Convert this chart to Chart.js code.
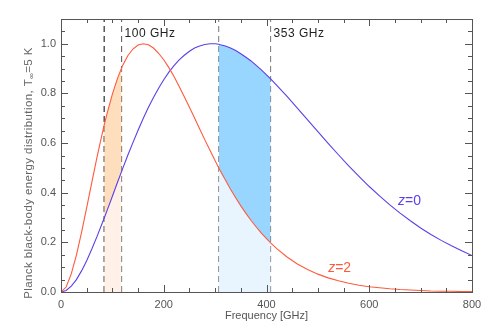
<!DOCTYPE html>
<html>
<head>
<meta charset="utf-8">
<script src="https://cdn.jsdelivr.net/npm/chart.js@4.4.1/dist/chart.umd.min.js"></script>
<style>
  html, body { margin: 0; padding: 0; background: #fff; }
  #wrap { width: 491px; height: 331px; }
</style>
</head>
<body>
<div id="wrap"><canvas id="planck" width="491" height="331"></canvas></div>
<script>
const freqGHz = [0, 10, 20, 30, 40, 50, 60, 70, 80, 84, 90, 100, 110, 118,
  120, 130, 140, 150, 160, 170, 180, 190, 200, 210, 220, 230, 240, 250, 260, 270, 280, 290, 300,
  307, 310, 320, 330, 340, 350, 360, 370, 380, 390, 400, 408,
  420, 440, 460, 480, 500, 520, 540, 560, 580, 600, 620, 640, 660, 680, 700, 720, 740, 760, 780, 800];

const z2Values = [0, 0.020, 0.073, 0.149, 0.240, 0.340, 0.442, 0.542, 0.636, 0.672, 0.722, 0.797, 0.861, 0.903,
  0.913, 0.952, 0.979, 0.995, 1.000, 0.996, 0.983, 0.962, 0.936, 0.904, 0.868, 0.828, 0.787, 0.744, 0.701, 0.657, 0.613, 0.571, 0.529,
  0.501, 0.489, 0.451, 0.414, 0.380, 0.347, 0.317, 0.288, 0.262, 0.237, 0.215, 0.198,
  0.175, 0.141, 0.113, 0.091, 0.072, 0.057, 0.045, 0.035, 0.027, 0.021, 0.017, 0.013, 0.010, 0.008, 0.006, 0.004, 0.003, 0.003, 0.002, 0.002];

const z0Values = [0, 0.006, 0.024, 0.050, 0.085, 0.126, 0.173, 0.223, 0.276, 0.297, 0.330, 0.386, 0.442, 0.486,
  0.497, 0.551, 0.602, 0.652, 0.699, 0.743, 0.784, 0.821, 0.855, 0.886, 0.912, 0.935, 0.954, 0.970, 0.983, 0.991, 0.997, 1.000, 1.000,
  0.998, 0.996, 0.991, 0.983, 0.973, 0.960, 0.946, 0.931, 0.913, 0.895, 0.875, 0.859,
  0.833, 0.788, 0.741, 0.694, 0.646, 0.599, 0.553, 0.508, 0.466, 0.425, 0.387, 0.351, 0.318, 0.287, 0.258, 0.232, 0.208, 0.186, 0.166, 0.147];

const band100 = [84, 118];
const band353 = [307, 408];
const bandNames = ['100 GHz', '353 GHz'];
const curveNames = ['0', '2'];

const xTickLabels = ['0', '200', '400', '600', '800'];
const yTickLabels = ['0.0', '0.2', '0.4', '0.6', '0.8', '1.0'];

const FONT = "'Liberation Sans', Arial, sans-serif";
const RED = '#ff5a3c';
const BLUE = '#5b3fe8';
const Y_MAX = 1.1;

const points = (ys) => freqGHz.map((f, i) => ({ x: f, y: ys[i] }));
const inBand = (ys, band) => points(ys).filter(p => p.x >= band[0] && p.x <= band[1]);
const vline = (f) => [{ x: f, y: 0 }, { x: f, y: Y_MAX }];

const fillSet = (data, fill, color) => ({
  data, fill, backgroundColor: color,
  borderWidth: 0, borderColor: 'rgba(0,0,0,0)', pointRadius: 0, order: 5,
});
const dashSet = (f, color) => ({
  data: vline(f), borderColor: color, borderWidth: 1, borderDash: [6, 4],
  pointRadius: 0, fill: false, order: 10,
});

// frame with inward ticks on all four sides, axis titles and annotations
const decorations = {
  id: 'decorations',
  afterDraw(chart) {
    const { ctx, chartArea: a, scales } = chart;
    const x = scales.x, y = scales.y;
    ctx.save();
    ctx.strokeStyle = '#555';
    ctx.lineWidth = 1;
    ctx.strokeRect(a.left + 0.5, a.top + 0.5, a.right - a.left, a.bottom - a.top);

    ctx.beginPath();
    for (let v = 0; v <= 800; v += 50) {
      const px = Math.round(x.getPixelForValue(v)) + 0.5;
      const len = v % 200 === 0 ? 7 : 4;
      ctx.moveTo(px, a.bottom); ctx.lineTo(px, a.bottom - len);
      ctx.moveTo(px, a.top); ctx.lineTo(px, a.top + len);
    }
    for (let k = 0; k <= 22; k++) {
      const v = k * 0.05;
      const py = Math.round(y.getPixelForValue(v)) + 0.5;
      const len = k % 4 === 0 ? 7 : 4;
      ctx.moveTo(a.left, py); ctx.lineTo(a.left + len, py);
      ctx.moveTo(a.right, py); ctx.lineTo(a.right - len, py);
    }
    ctx.stroke();

    // x title
    ctx.fillStyle = '#555';
    ctx.font = `11px ${FONT}`;
    ctx.textAlign = 'center';
    ctx.textBaseline = 'middle';
    ctx.fillText('Frequency [GHz]', (a.left + a.right) / 2, 316);

    // y title with subscript
    const main = 'Planck black-body energy distribution, T';
    const sub = '\u221e';
    const tail = '=5 K';
    ctx.fillStyle = '#666';
    ctx.letterSpacing = '0.4px';
    ctx.font = `11.5px ${FONT}`;
    const w1 = ctx.measureText(main).width;
    const w3 = ctx.measureText(tail).width;
    ctx.font = `8px ${FONT}`;
    const w2 = ctx.measureText(sub).width;
    const total = w1 + w2 + w3;
    ctx.translate(29, 173);
    ctx.rotate(-Math.PI / 2);
    ctx.textAlign = 'left';
    ctx.textBaseline = 'middle';
    ctx.font = `11.5px ${FONT}`;
    ctx.fillText(main, -total / 2, 0);
    ctx.font = `8px ${FONT}`;
    ctx.fillText(sub, -total / 2 + w1, 3);
    ctx.font = `11.5px ${FONT}`;
    ctx.fillText(tail, -total / 2 + w1 + w2, 0);
    ctx.restore();

    // band names next to the right edge of each band
    ctx.save();
    ctx.fillStyle = '#222';
    ctx.font = `12px ${FONT}`;
    ctx.letterSpacing = '0.5px';
    ctx.textBaseline = 'alphabetic';
    [band100, band353].forEach((b, i) => {
      ctx.fillText(bandNames[i], x.getPixelForValue(b[1]) + 3, y.getPixelForValue(1.027));
    });

    // curve names
    const curveTags = [
      { z: curveNames[0], f: 656, v: 0.366, color: BLUE },
      { z: curveNames[1], f: 520, v: 0.097, color: RED },
    ];
    ctx.letterSpacing = '0px';
    ctx.textBaseline = 'middle';
    curveTags.forEach(t => {
      let px = x.getPixelForValue(t.f);
      const py = y.getPixelForValue(t.v);
      ctx.fillStyle = t.color;
      ctx.font = `italic 14px ${FONT}`;
      ctx.fillText('z', px, py);
      px += ctx.measureText('z').width;
      ctx.font = `14px ${FONT}`;
      ctx.fillText('=' + t.z, px, py);
    });
    ctx.restore();
  },
};

new Chart(document.getElementById('planck'), {
  type: 'line',
  data: {
    datasets: [
      { data: points(z2Values), borderColor: RED, borderWidth: 1.1, pointRadius: 0, fill: false, order: 1 },
      { data: points(z0Values), borderColor: BLUE, borderWidth: 1.1, pointRadius: 0, fill: false, order: 1 },
      fillSet(inBand(z0Values, band100), 'origin', 'rgba(255, 238, 225, 0.8)'),
      fillSet(inBand(z2Values, band100), 2, 'rgba(255, 214, 174, 0.8)'),
      fillSet(inBand(z2Values, band353), 'origin', 'rgba(226, 242, 255, 0.8)'),
      fillSet(inBand(z0Values, band353), 4, 'rgba(128, 204, 255, 0.8)'),
      dashSet(band100[0], '#000'),
      dashSet(band100[1], '#555'),
      dashSet(band353[0], '#777'),
      dashSet(band353[1], '#777'),
    ],
  },
  options: {
    responsive: false,
    animation: false,
    devicePixelRatio: 1,
    layout: { padding: { top: 19, right: 19, left: 0, bottom: 0 } },
    plugins: { legend: { display: false }, tooltip: { enabled: false } },
    scales: {
      x: {
        type: 'linear', min: 0, max: 800,
        grid: { display: false, drawTicks: false },
        border: { display: false },
        afterBuildTicks: (s) => { s.ticks = xTickLabels.map(t => ({ value: parseFloat(t) })); },
        afterFit: (s) => { s.height = 39; },
        ticks: {
          padding: 6, color: '#555', font: { family: FONT, size: 11 }, maxRotation: 0,
          callback: (v, i) => xTickLabels[i],
        },
      },
      y: {
        type: 'linear', min: 0, max: Y_MAX,
        grid: { display: false, drawTicks: false },
        border: { display: false },
        afterBuildTicks: (s) => { s.ticks = yTickLabels.map(t => ({ value: parseFloat(t) })); },
        afterFit: (s) => { s.width = 61; },
        ticks: {
          padding: 5, color: '#555', font: { family: FONT, size: 11 },
          callback: (v, i) => yTickLabels[i],
        },
      },
    },
  },
  plugins: [decorations],
});
</script>
</body>
</html>
